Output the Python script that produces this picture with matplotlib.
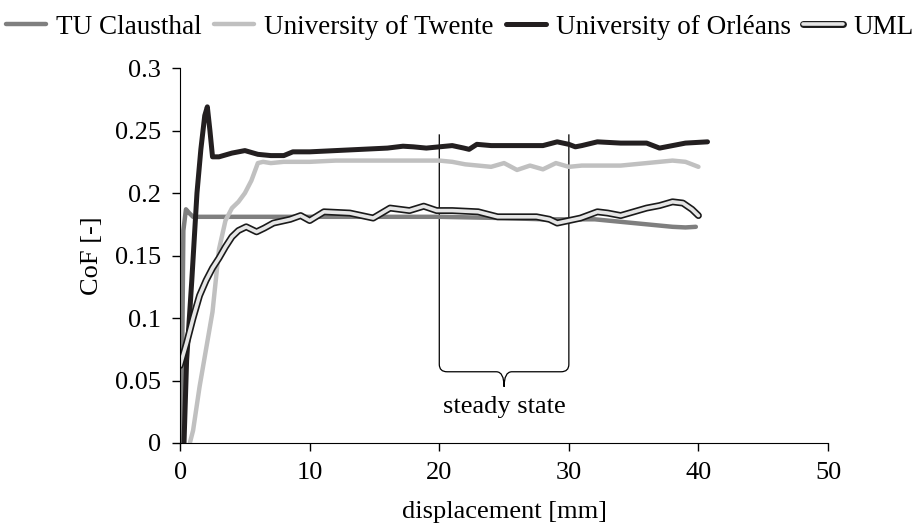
import matplotlib
matplotlib.use("Agg")
import matplotlib.pyplot as plt
import matplotlib.patheffects as pe
from matplotlib.path import Path
from matplotlib.patches import PathPatch

plt.rcParams["font.family"] = ["Liberation Serif", "DejaVu Serif"]

# TU Clausthal
clausthal_x = [0.1, 0.15, 0.25, 0.45, 0.7, 1.0, 2, 5, 10, 15, 20, 25, 28, 30, 32, 34, 35, 36, 37, 38, 39, 39.8]
clausthal_y = [0, 0.06, 0.17, 0.187, 0.184, 0.181, 0.181, 0.181, 0.181, 0.181, 0.181, 0.180, 0.179, 0.179,
               0.179, 0.177, 0.176, 0.175, 0.174, 0.173, 0.1725, 0.173]

# University of Twente
twente_x = [0.75, 1.0, 1.5, 2.0, 2.5, 3.0, 3.5, 4.0, 4.5, 5.0, 5.5, 6.0, 6.4, 7, 8, 10, 12, 14, 16, 18, 20,
            21, 22, 23, 24, 25, 26, 27, 28, 29, 30, 31, 32, 34, 36, 38, 39, 40]
twente_y = [0, 0.01, 0.045, 0.075, 0.105, 0.155, 0.178, 0.188, 0.193, 0.2, 0.21, 0.224, 0.225, 0.224, 0.225,
            0.225, 0.226, 0.226, 0.226, 0.226, 0.226, 0.225, 0.223, 0.222, 0.221, 0.224, 0.2185, 0.222, 0.219,
            0.224, 0.221, 0.222, 0.222, 0.222, 0.224, 0.226, 0.225, 0.221]

# University of Orleans
orleans_x = [0.3, 0.5, 0.9, 1.3, 1.6, 1.9, 2.1, 2.3, 2.5, 3, 4, 5, 6, 7, 8, 8.7, 10, 12, 14, 16, 17.2, 18,
             19, 20, 21, 21.9, 22.3, 22.9, 24, 26, 28, 29.1, 30, 30.5, 31, 32.2, 34, 36, 37, 38, 39, 40.7]
orleans_y = [0, 0.066, 0.13, 0.2, 0.235, 0.262, 0.269, 0.25, 0.229, 0.229, 0.232, 0.234, 0.231, 0.23, 0.23,
             0.233, 0.233, 0.234, 0.235, 0.236, 0.2375, 0.237, 0.236, 0.237, 0.238, 0.236, 0.235, 0.239, 0.238,
             0.238, 0.238, 0.241, 0.239, 0.237, 0.238, 0.241, 0.24, 0.24, 0.236, 0.238, 0.24, 0.241]

# UML
uml_x = [0, 0.5, 1, 1.5, 2, 2.5, 3, 3.5, 4, 4.5, 5.1, 5.9, 6.5, 7.2, 8.5, 9.3, 10.0, 11.1, 13.1, 14.9, 16.2,
         17.7, 18.8, 19.8, 21, 23, 24.5, 26, 27.5, 28.5, 29.1, 30, 30.9, 32.2, 33, 34, 35, 36, 37, 38, 38.8,
         39.5, 40]
uml_y = [0.062, 0.08, 0.1, 0.118, 0.13, 0.14, 0.148, 0.157, 0.165, 0.17, 0.173, 0.169, 0.172, 0.176, 0.179,
         0.182, 0.178, 0.185, 0.184, 0.180, 0.188, 0.186, 0.1895, 0.186, 0.186, 0.185, 0.181, 0.181, 0.181,
         0.179, 0.176, 0.178, 0.180, 0.185, 0.184, 0.182, 0.185, 0.188, 0.190, 0.193, 0.192, 0.187, 0.182]

ss_start = 20
ss_end = 30
ss_top = 0.247

fig = plt.figure(figsize=(9.19, 5.28), dpi=100)
ax = fig.add_axes([0.196, 0.161, 0.705, 0.71])

ax.plot(clausthal_x, clausthal_y, color="#7f7f7f", lw=3.2, solid_capstyle="round", label="TU Clausthal")
ax.plot(twente_x, twente_y, color="#c0c0c0", lw=3.2, solid_capstyle="round", label="University of Twente")
ax.plot(orleans_x, orleans_y, color="#231f20", lw=3.6, solid_capstyle="round", label="University of Orléans")
ax.plot(uml_x, uml_y, color="#e6e6e6", lw=2.6, solid_capstyle="round", label="UML",
        path_effects=[pe.Stroke(linewidth=5.0, foreground="#1a1a1a"), pe.Normal()])

# steady state bracket
brace_y = 0.057
tip_y = 0.045
mid = (ss_start + ss_end) / 2
verts = [(ss_start, ss_top), (ss_start, brace_y + 0.006), (ss_start, brace_y), (ss_start + 0.6, brace_y),
         (mid - 0.6, brace_y), (mid, brace_y), (mid, tip_y),
         (mid, brace_y), (mid + 0.6, brace_y), (ss_end - 0.6, brace_y),
         (ss_end, brace_y), (ss_end, brace_y + 0.006), (ss_end, ss_top)]
codes = [Path.MOVETO, Path.LINETO, Path.CURVE3, Path.CURVE3, Path.LINETO, Path.CURVE3, Path.CURVE3,
         Path.CURVE3, Path.CURVE3, Path.LINETO, Path.CURVE3, Path.CURVE3, Path.LINETO]
ax.add_patch(PathPatch(Path(verts, codes), fill=False, lw=0.9, color="black"))
ax.text(mid, 0.029, "steady state", ha="center", va="center", fontsize=19)

ax.set_xlim(0, 50)
ax.set_ylim(0, 0.3)
ax.set_xticks([0, 10, 20, 30, 40, 50])
ax.set_yticks([0, 0.05, 0.1, 0.15, 0.2, 0.25, 0.3])
ax.set_yticklabels(["0", "0.05", "0.1", "0.15", "0.2", "0.25", "0.3"])
ax.spines["top"].set_visible(False)
ax.spines["right"].set_visible(False)
ax.tick_params(labelsize=19, length=6, width=1, direction="out", pad=8)
ax.set_xlabel("displacement [mm]", fontsize=19, labelpad=12)
ax.set_ylabel("CoF [-]", fontsize=19, labelpad=8)

fig.legend(loc="upper center", bbox_to_anchor=(0.5, 1.0), ncol=4, frameon=False, fontsize=19.5,
           handlelength=1.48, handletextpad=0.37, columnspacing=0.45, borderaxespad=0.15)

fig.savefig("out.png", dpi=100)
